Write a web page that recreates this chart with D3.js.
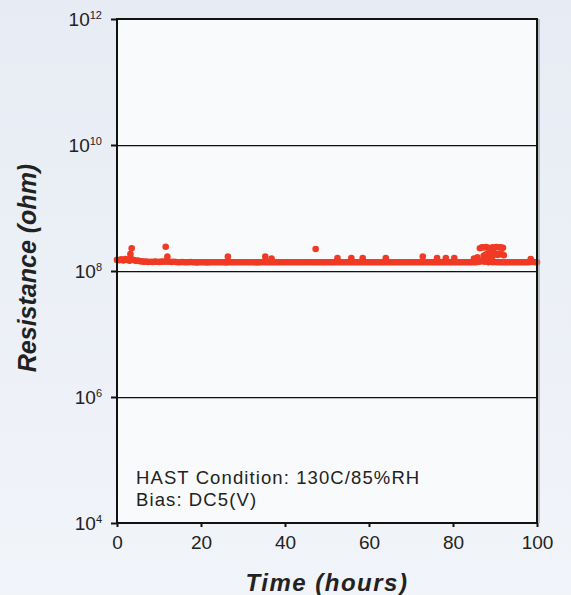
<!DOCTYPE html>
<html>
<head>
<meta charset="utf-8">
<script src="https://cdn.jsdelivr.net/npm/d3@7"></script>
<style>
  html, body { margin: 0; padding: 0; }
  body { width: 571px; height: 595px; overflow: hidden; }
  text { font-family: "Liberation Sans", Arial, sans-serif; fill: #222; }
</style>
</head>
<body>
<svg id="chart" width="571" height="595"></svg>
<script>
// Chart data (resistance in units of 1e8 ohm)
const xTicks = [0, 20, 40, 60, 80, 100];
const yTicks = [1e4, 1e6, 1e8, 1e10, 1e12];
const yExponents = ["4", "6", "8", "10", "12"];
const gridValues = [1e6, 1e8, 1e10];

// main reading, every half hour from 0 to 100 h
const mainStep = 0.5;
const mainValues = [
  1.50, 1.48, 1.53, 1.47, 1.55, 1.50, 1.46, 1.54, 1.49, 1.45, 1.47, 1.43, 1.42, 1.40, 1.41, 1.39, 1.40, 1.39, 1.41, 1.40,
  1.39, 1.41, 1.40, 1.42, 1.41, 1.40, 1.39, 1.40, 1.39, 1.38, 1.38, 1.39, 1.38, 1.38, 1.38, 1.39, 1.38, 1.38, 1.37, 1.38,
  1.38, 1.38, 1.38, 1.37, 1.38, 1.38, 1.38, 1.38, 1.38, 1.38, 1.38, 1.38, 1.37, 1.38, 1.38, 1.38, 1.38, 1.38, 1.38, 1.38,
  1.38, 1.38, 1.38, 1.38, 1.38, 1.38, 1.38, 1.37, 1.38, 1.38, 1.38, 1.38, 1.38, 1.38, 1.38, 1.38, 1.38, 1.38, 1.38, 1.38,
  1.38, 1.38, 1.38, 1.38, 1.38, 1.38, 1.38, 1.38, 1.38, 1.38, 1.38, 1.38, 1.38, 1.38, 1.38, 1.38, 1.38, 1.38, 1.38, 1.38,
  1.38, 1.38, 1.38, 1.38, 1.38, 1.38, 1.38, 1.38, 1.38, 1.38, 1.38, 1.38, 1.38, 1.38, 1.38, 1.38, 1.38, 1.38, 1.38, 1.38,
  1.38, 1.38, 1.38, 1.38, 1.38, 1.38, 1.38, 1.38, 1.38, 1.38, 1.38, 1.38, 1.38, 1.38, 1.38, 1.38, 1.38, 1.38, 1.38, 1.38,
  1.38, 1.38, 1.38, 1.38, 1.38, 1.38, 1.38, 1.38, 1.38, 1.38, 1.38, 1.38, 1.38, 1.38, 1.38, 1.38, 1.38, 1.38, 1.38, 1.38,
  1.38, 1.38, 1.38, 1.38, 1.38, 1.38, 1.38, 1.38, 1.38, 1.38, 1.38, 1.38, 1.40, 1.42, 1.45, 1.40, 1.43, 1.38, 1.40, 1.38,
  1.39, 1.38, 1.38, 1.38, 1.38, 1.38, 1.38, 1.38, 1.38, 1.38, 1.38, 1.38, 1.38, 1.38, 1.38, 1.38, 1.38, 1.39, 1.40, 1.38,
  1.38
];

// readings that stand above the band
const spikeTimes  = [3.2, 3.5, 11.6, 12.0, 26.4, 35.3, 36.8, 47.3, 52.5, 55.8, 58.5, 64.0, 72.8, 76.2, 78.3, 80.3,
                     85.0, 85.8, 86.4, 86.9, 87.4, 87.9, 88.4, 88.9, 89.4, 89.9, 90.4, 90.9, 91.4, 91.9,
                     87.3, 87.8, 88.3, 89.2, 89.7, 90.2, 90.7, 91.2, 91.7, 92.1, 88.8, 89.3, 98.5];
const spikeValues = [1.85, 2.30, 2.43, 1.69, 1.69, 1.69, 1.58, 2.23, 1.60, 1.60, 1.60, 1.60, 1.70, 1.60, 1.60, 1.60,
                     1.58, 1.65, 2.30, 2.38, 2.36, 2.40, 2.34, 2.30, 2.38, 2.35, 2.40, 2.36, 2.38, 2.33,
                     1.75, 1.82, 1.90, 2.05, 1.95, 1.85, 1.80, 1.88, 1.84, 1.78, 1.62, 1.70, 1.55];

const svg = d3.select("#chart"),
    width = +svg.attr("width"),
    height = +svg.attr("height");

const margin = { top: 19, right: 34, bottom: 72, left: 117 };
const innerW = width - margin.left - margin.right,
    innerH = height - margin.top - margin.bottom;

// background gradient
const defs = svg.append("defs");
const grad = defs.append("linearGradient")
    .attr("id", "bg")
    .attr("x1", 0).attr("y1", 0).attr("x2", 0).attr("y2", 1);
grad.append("stop").attr("offset", "0%").attr("stop-color", "#e7ecf4");
grad.append("stop").attr("offset", "100%").attr("stop-color", "#f1f4f9");

svg.append("rect")
    .attr("width", width)
    .attr("height", height)
    .attr("fill", "url(#bg)");

const x = d3.scaleLinear().domain([0, 100]).range([0, innerW]);
const y = d3.scaleLog().domain([1e4, 1e12]).range([innerH, 0]);

const g = svg.append("g")
    .attr("transform", `translate(${margin.left},${margin.top})`);

g.append("rect")
    .attr("width", innerW)
    .attr("height", innerH)
    .attr("fill", "#f9fafc");

// gridlines with a faint shadow
g.selectAll(".gridShadow")
    .data(gridValues)
    .enter()
    .append("line")
    .attr("x1", 0).attr("x2", innerW)
    .attr("y1", d => y(d) + 1.5).attr("y2", d => y(d) + 1.5)
    .attr("stroke", "#b8babe")
    .attr("stroke-width", 1);

g.selectAll(".grid")
    .data(gridValues)
    .enter()
    .append("line")
    .attr("x1", 0).attr("x2", innerW)
    .attr("y1", d => y(d) + 0.5).attr("y2", d => y(d) + 0.5)
    .attr("stroke", "#111")
    .attr("stroke-width", 1);

// points
const mainPoints = mainValues.map((v, i) => ({ t: i * mainStep, r: v * 1e8 }));
const spikePoints = spikeTimes.map((t, i) => ({ t: t, r: spikeValues[i] * 1e8 }));

g.append("g")
    .selectAll("circle")
    .data(mainPoints.concat(spikePoints))
    .enter()
    .append("circle")
    .attr("cx", d => x(d.t))
    .attr("cy", d => y(d.r))
    .attr("r", 3.3)
    .attr("fill", "#f03a24");

// frame
g.append("line")
    .attr("x1", innerW + 2).attr("x2", innerW + 2)
    .attr("y1", 0).attr("y2", innerH)
    .attr("stroke", "#9a9ca0")
    .attr("stroke-width", 1.2);

g.append("rect")
    .attr("width", innerW)
    .attr("height", innerH)
    .attr("fill", "none")
    .attr("stroke", "#111")
    .attr("stroke-width", 2);

// x axis
const xAxis = g.append("g")
    .attr("transform", `translate(0,${innerH})`)
    .call(d3.axisBottom(x).tickValues(xTicks).tickSize(4).tickSizeOuter(0).tickPadding(9));
xAxis.select(".domain").remove();
xAxis.selectAll("line").attr("stroke", "#111").attr("stroke-width", 2);
xAxis.selectAll("text")
    .style("font-family", "'Liberation Sans', Arial, sans-serif")
    .style("font-size", "19px")
    .attr("fill", "#222");

// y axis with superscript labels
const yAxis = g.append("g")
    .call(d3.axisLeft(y).tickValues(yTicks).tickSize(6).tickSizeOuter(0).tickFormat(() => ""));
yAxis.select(".domain").remove();
yAxis.selectAll("line").attr("stroke", "#111").attr("stroke-width", 2);
yAxis.selectAll(".tick text").remove();
yAxis.selectAll(".tick")
    .append("text")
    .attr("x", -15)
    .attr("y", 6)
    .attr("text-anchor", "end")
    .style("font-size", "19px")
    .attr("fill", "#222")
    .text("10")
    .append("tspan")
    .attr("dy", -6.5)
    .style("font-size", "11px")
    .text((d, i) => yExponents[i]);

// annotation
g.append("text")
    .attr("x", 19)
    .attr("y", 465)
    .style("font-size", "18.5px")
    .style("letter-spacing", "1.1px")
    .text("HAST Condition: 130C/85%RH");

g.append("text")
    .attr("x", 19)
    .attr("y", 487)
    .style("font-size", "18.5px")
    .style("letter-spacing", "1.1px")
    .text("Bias: DC5(V)");

// axis titles
svg.append("text")
    .attr("x", margin.left + innerW / 2)
    .attr("y", 591)
    .attr("text-anchor", "middle")
    .style("font-size", "24px")
    .style("font-weight", "bold")
    .style("font-style", "italic")
    .style("letter-spacing", "1.5px")
    .attr("fill", "#1a1a1a")
    .text("Time (hours)");

svg.append("text")
    .attr("transform", `translate(36,${268}) rotate(-90)`)
    .attr("text-anchor", "middle")
    .style("font-size", "25px")
    .style("font-weight", "bold")
    .style("font-style", "italic")
    .attr("fill", "#1a1a1a")
    .text("Resistance (ohm)");
</script>
</body>
</html>
